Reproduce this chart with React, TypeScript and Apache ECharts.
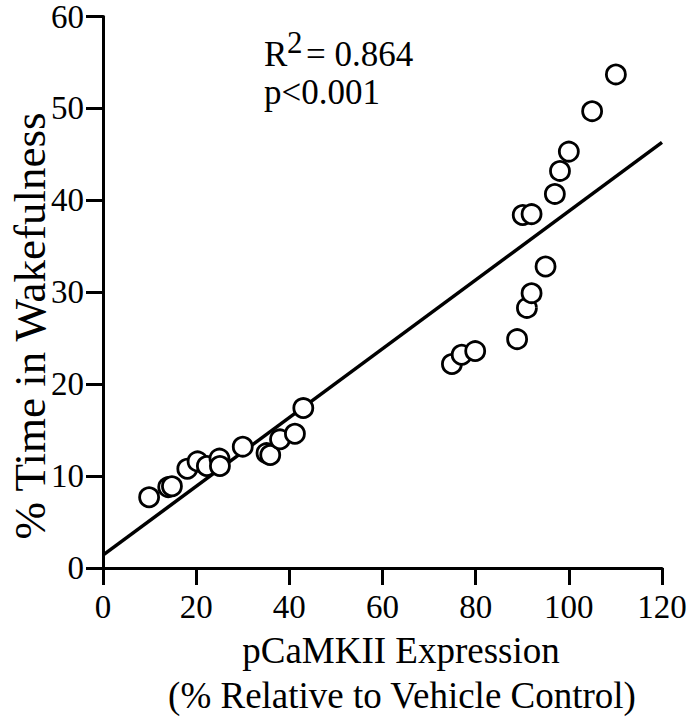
import React, { useEffect, useRef } from "react";
import * as echarts from "echarts";

const pcamkii = [9.9, 14.0, 14.8, 18.1, 20.3, 22.3, 25.0, 25.1, 30.0, 35.1, 35.9, 38.0, 41.2, 43.0, 74.9, 77.0, 79.9, 88.9, 91.0, 92.0, 95.0, 90.1, 92.0, 97.0, 98.1, 100.0, 105.0, 110.1];
const wakefulness = [7.7, 8.8, 8.9, 10.8, 11.6, 11.1, 11.9, 11.1, 13.2, 12.5, 12.3, 14.0, 14.6, 17.4, 22.2, 23.2, 23.6, 24.9, 28.3, 29.9, 32.8, 38.4, 38.5, 40.7, 43.2, 45.3, 49.7, 53.7];
const fitX = [0, 120];
const fitY = [1.4, 46.3];
const xTicks = [0, 20, 40, 60, 80, 100, 120];
const yTicks = [0, 10, 20, 30, 40, 50, 60];
const r2Text = "0.864";
const pText = "p<0.001";

const FONT = "Liberation Serif";

export default function App() {
  const ref = useRef<HTMLDivElement>(null);
  useEffect(() => {
    if (!ref.current) return;
    const chart = echarts.init(ref.current, null, { renderer: "svg" });
    const labelStyle = { color: "#000", fontFamily: FONT, fontSize: 33 };
    const axisLine = { show: true, onZero: false, lineStyle: { color: "#000", width: 3 } };
    const axisTick = { show: true, inside: false, length: 17, lineStyle: { color: "#000", width: 3 } };
    chart.setOption({
      animation: false,
      backgroundColor: "#fff",
      textStyle: { fontFamily: FONT },
      grid: { left: 103, right: 28, top: 9, bottom: 152, containLabel: false },
      xAxis: {
        type: "value",
        min: xTicks[0],
        max: xTicks[xTicks.length - 1],
        interval: 20,
        axisLine,
        axisTick,
        splitLine: { show: false },
        axisLabel: { ...labelStyle, margin: 22 },
      },
      yAxis: {
        type: "value",
        min: yTicks[0],
        max: yTicks[yTicks.length - 1],
        interval: 10,
        axisLine,
        axisTick,
        splitLine: { show: false },
        axisLabel: { ...labelStyle, margin: 19 },
      },
      series: [
        {
          type: "line",
          data: fitX.map((x, i) => [x, fitY[i]]),
          showSymbol: false,
          symbol: "none",
          lineStyle: { color: "#000", width: 3.5 },
          z: 1,
        },
        {
          type: "scatter",
          data: pcamkii.map((x, i) => [x, wakefulness[i]]),
          symbol: "circle",
          symbolSize: 19,
          itemStyle: { color: "#fff", borderColor: "#000", borderWidth: 2.8, opacity: 1 },
          z: 2,
        },
      ],
      graphic: [
        {
          type: "text",
          left: 264,
          top: 37,
          style: { text: "R", font: `35px '${FONT}'`, fill: "#000" },
        },
        {
          type: "text",
          left: 287,
          top: 27,
          style: { text: "2", font: `31px '${FONT}'`, fill: "#000" },
        },
        {
          type: "text",
          left: 306,
          top: 37,
          style: { text: "= " + r2Text, font: `35px '${FONT}'`, fill: "#000" },
        },
        {
          type: "text",
          left: 264,
          top: 75,
          style: { text: pText, font: `35px '${FONT}'`, fill: "#000" },
        },
        {
          type: "text",
          x: 401,
          y: 650,
          style: { text: "pCaMKII Expression", font: `37px '${FONT}'`, fill: "#000", textAlign: "center", textVerticalAlign: "middle" },
        },
        {
          type: "text",
          x: 402,
          y: 695,
          style: { text: "(% Relative to Vehicle Control)", font: `37px '${FONT}'`, fill: "#000", textAlign: "center", textVerticalAlign: "middle" },
        },
        {
          type: "text",
          x: 30,
          y: 326,
          rotation: Math.PI / 2,
          style: { text: "% Time in Wakefulness", font: `45px '${FONT}'`, fill: "#000", textAlign: "center", textVerticalAlign: "middle" },
        },
      ],
    });
    return () => chart.dispose();
  }, []);
  return <div ref={ref} style={{ width: 690, height: 720, position: "absolute", left: 0, top: 0 }} />;
}
